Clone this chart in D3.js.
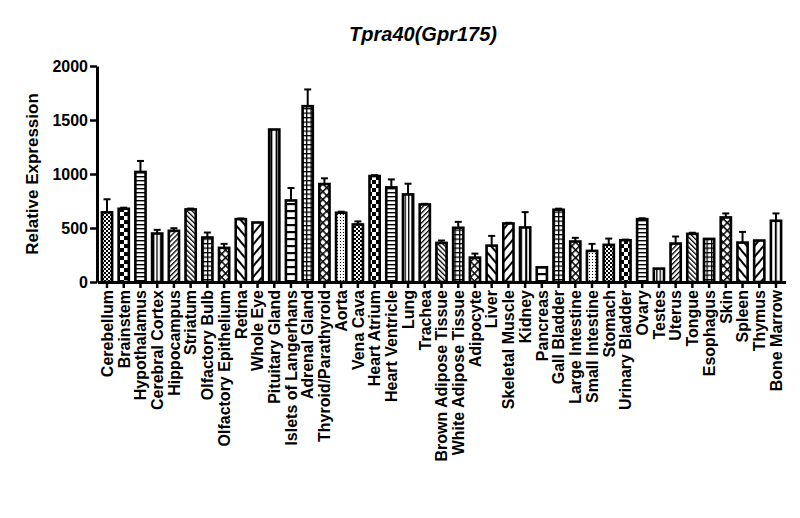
<!DOCTYPE html>
<html>
<head>
<meta charset="utf-8">
<script src="https://cdn.jsdelivr.net/npm/d3@7"></script>
<style>
  body { margin: 0; background: #fff; }
  svg text { font-family: "Liberation Sans", Arial, sans-serif; font-weight: bold; fill: #000; }
</style>
</head>
<body>
<script>
// tissues, read left to right
const categories = ["Cerebellum", "Brainstem", "Hypothalamus", "Cerebral Cortex", "Hippocampus",
  "Striatum", "Olfactory Bulb", "Olfactory Epithelium", "Retina", "Whole Eye",
  "Pituitary Gland", "Islets of Langerhans", "Adrenal Gland", "Thyroid/Parathyroid", "Aorta",
  "Vena Cava", "Heart Atrium", "Heart Ventricle", "Lung", "Trachea",
  "Brown Adipose Tissue", "White Adipose Tissue", "Adipocyte", "Liver", "Skeletal Muscle",
  "Kidney", "Pancreas", "Gall Bladder", "Large Intestine", "Small Intestine",
  "Stomach", "Urinary Bladder", "Ovary", "Testes", "Uterus",
  "Tongue", "Esophagus", "Skin", "Spleen", "Thymus", "Bone Marrow"];

// mean relative expression
const means = [645, 678, 1019, 449, 474,
  672, 412, 316, 582, 551,
  1412, 755, 1628, 907, 641,
  533, 981, 876, 811, 718,
  362, 502, 226, 337, 542,
  505, 136, 669, 375, 288,
  344, 387, 582, 124, 356,
  446, 399, 598, 365, 384, 567];

// upper error (SEM)
const errors = [121, 10, 102, 34, 24,
  8, 46, 37, 6, 0,
  0, 115, 155, 53, 10,
  28, 8, 74, 99, 6,
  22, 55, 37, 90, 6,
  142, 0, 10, 34, 65,
  58, 5, 8, 0, 65,
  10, 0, 37, 99, 0, 68];

const yTicks = [0, 500, 1000, 1500, 2000];

const width = 800, height = 518;
const svg = d3.select("body").append("svg")
  .attr("width", width)
  .attr("height", height);

// hatch fills, cycled every 15 bars like the original
const defs = svg.append("defs");
function pat(id, size) {
  return defs.append("pattern").attr("id", id)
    .attr("patternUnits", "userSpaceOnUse")
    .attr("width", size).attr("height", size);
}
function bg(p, s) { p.append("rect").attr("width", s).attr("height", s).attr("fill", "#fff"); }

let p;
p = pat("checkS", 4); bg(p, 4);
p.append("rect").attr("width", 2).attr("height", 2).attr("fill", "#000");
p.append("rect").attr("x", 2).attr("y", 2).attr("width", 2).attr("height", 2).attr("fill", "#000");

p = pat("checkL", 8); bg(p, 8);
p.append("rect").attr("width", 4).attr("height", 4).attr("fill", "#000");
p.append("rect").attr("x", 4).attr("y", 4).attr("width", 4).attr("height", 4).attr("fill", "#000");

p = pat("hor", 4); bg(p, 4);
p.append("rect").attr("y", 0).attr("width", 4).attr("height", 1.4).attr("fill", "#000");

p = pat("ver", 3.4); bg(p, 3.4);
p.append("rect").attr("x", 0).attr("width", 1.3).attr("height", 3.4).attr("fill", "#000");

p = pat("diagF", 3.5); bg(p, 3.5);
p.attr("patternTransform", "rotate(45)");
p.append("rect").attr("width", 1.3).attr("height", 3.5).attr("fill", "#000");

p = pat("diagB", 3.5); bg(p, 3.5);
p.attr("patternTransform", "rotate(-45)");
p.append("rect").attr("width", 1.3).attr("height", 3.5).attr("fill", "#000");

p = pat("grid", 4.5); bg(p, 4.5);
p.append("rect").attr("width", 4.5).attr("height", 1.3).attr("fill", "#000");
p.append("rect").attr("width", 1.3).attr("height", 4.5).attr("fill", "#000");

p = pat("xhatch", 5.5); bg(p, 5.5);
p.attr("patternTransform", "rotate(45)");
p.append("rect").attr("width", 5.5).attr("height", 1.5).attr("fill", "#000");
p.append("rect").attr("width", 1.5).attr("height", 5.5).attr("fill", "#000");

p = pat("diagBW", 7); bg(p, 7);
p.attr("patternTransform", "rotate(-40)");
p.append("rect").attr("width", 2).attr("height", 7).attr("fill", "#000");

p = pat("diagFW", 7); bg(p, 7);
p.attr("patternTransform", "rotate(40)");
p.append("rect").attr("width", 2).attr("height", 7).attr("fill", "#000");

p = pat("verW", 5.2); bg(p, 5.2);
p.append("rect").attr("x", 0).attr("width", 2).attr("height", 5.2).attr("fill", "#000");

p = pat("horW", 7); bg(p, 7);
p.append("rect").attr("y", 0).attr("width", 7).attr("height", 2.2).attr("fill", "#000");

p = pat("dots", 3); bg(p, 3);
p.append("rect").attr("x", 1).attr("y", 1).attr("width", 1).attr("height", 1).attr("fill", "#000");

const fills = ["checkS", "checkL", "hor", "ver", "diagF", "diagB", "grid", "xhatch",
  "diagBW", "diagFW", "verW", "horW", "grid", "xhatch", "dots"];

const x = d3.scaleBand()
  .domain(categories)
  .range([97.4, 785.6])
  .paddingInner(0.39)
  .paddingOuter(0.27);

const y = d3.scaleLinear()
  .domain([0, 2000])
  .range([282, 66]);

// bars
svg.append("g").selectAll("rect")
  .data(categories)
  .join("rect")
  .attr("x", d => x(d))
  .attr("y", (d, i) => y(means[i]))
  .attr("width", x.bandwidth())
  .attr("height", (d, i) => y(0) - y(means[i]))
  .attr("fill", (d, i) => "url(#" + fills[i % fills.length] + ")")
  .attr("stroke", "#000")
  .attr("stroke-width", 2.6);

// error bars (upper only)
const eb = svg.append("g").attr("stroke", "#000").attr("stroke-width", 2);
categories.forEach((c, i) => {
  if (errors[i] <= 0) return;
  const cx = x(c) + x.bandwidth() / 2;
  eb.append("line")
    .attr("x1", cx).attr("x2", cx)
    .attr("y1", y(means[i])).attr("y2", y(means[i] + errors[i]));
  eb.append("line")
    .attr("x1", cx - 3.5).attr("x2", cx + 3.5)
    .attr("y1", y(means[i] + errors[i])).attr("y2", y(means[i] + errors[i]));
});

// y axis
const yAxis = svg.append("g")
  .attr("transform", "translate(97,0)")
  .call(d3.axisLeft(y).tickValues(yTicks).tickFormat(d3.format("d"))
    .tickSize(7).tickSizeOuter(0).tickPadding(2));
yAxis.select(".domain").attr("stroke-width", 3);
yAxis.selectAll(".tick line").attr("stroke-width", 2.5);
yAxis.selectAll(".tick text").style("font-size", "16px");

// x axis
const xAxis = svg.append("g")
  .attr("transform", "translate(0," + y(0) + ")")
  .call(d3.axisBottom(x).tickSize(6).tickSizeOuter(0));
xAxis.select(".domain").attr("stroke-width", 3);
xAxis.selectAll(".tick line").attr("stroke-width", 2.5);
xAxis.selectAll(".tick text")
  .style("font-size", "16px")
  .attr("transform", "rotate(-90)")
  .attr("text-anchor", "end")
  .attr("x", -8)
  .attr("y", 0)
  .attr("dy", "0.36em");

// y label
svg.append("text")
  .attr("transform", "translate(38,174) rotate(-90)")
  .attr("text-anchor", "middle")
  .style("font-size", "17px")
  .text("Relative Expression");

// title
svg.append("text")
  .attr("x", 423)
  .attr("y", 41)
  .attr("text-anchor", "middle")
  .style("font-size", "20px")
  .style("font-style", "italic")
  .text("Tpra40(Gpr175)");
</script>
</body>
</html>
